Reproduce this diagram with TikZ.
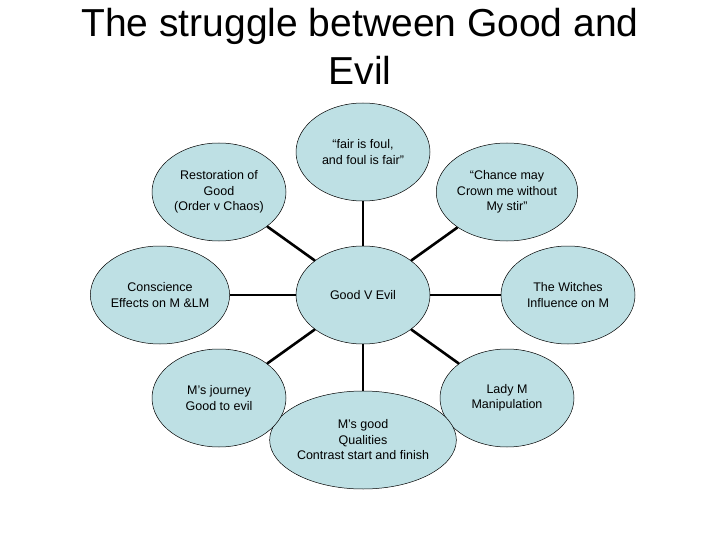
\documentclass[tikz,border=0pt]{standalone}
\usepackage{fontspec}
\setmainfont{Liberation Sans}
\usetikzlibrary{shapes.geometric}
\definecolor{bub}{RGB}{190,224,228}
\begin{document}
\begin{tikzpicture}[x=1pt,y=-1pt,
  bub/.style={ellipse,draw=black,line width=0.5pt,fill=bub,minimum width=134pt,minimum height=98pt,inner sep=0pt,align=center,font=\fontsize{12.5}{15.5}\selectfont},
  link/.style={line width=2.6pt}]
\useasboundingbox (0,0) rectangle (720,540);
\node[font=\fontsize{39}{48}\selectfont,align=center] (t) at (360,46) {The struggle between Good and\\Evil};
\node[bub] (c) at (363,295) {Good V Evil};
\node[bub] (n) at (363,152) {``fair is foul,\\ and foul is fair''};
\node[bub] (ne) at (507,192) {``Chance may\\Crown me without\\My stir''};
\node[bub] (e) at (568,295) {The Witches\\Influence on M};
\node[bub] (se) at (507,398) {Lady M\\Manipulation};
\node[bub] (s) at (363,440) {M's good\\Qualities\\Contrast start and finish};
\node[bub] (sw) at (219,398) {M's journey\\Good to evil};
\node[bub] (w) at (160,295) {Conscience\\Effects on M \&LM};
\node[bub] (nw) at (219,192) {Restoration of\\Good\\(Order v Chaos)};
\foreach \x in {n,ne,e,se,s,sw,w,nw} {\draw[link] (c) -- (\x);}
\end{tikzpicture}
\end{document}
